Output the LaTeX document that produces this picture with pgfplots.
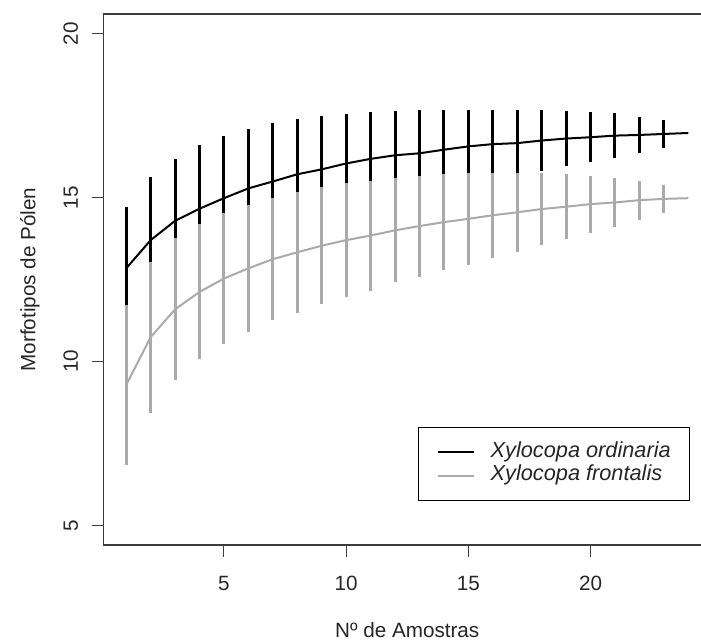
\documentclass[border=0pt]{standalone}
\usepackage{fontspec}
\setmainfont{Liberation Sans}
\usepackage{pgfplots}
\usepackage{pgfplotstable}
\pgfplotsset{compat=1.18}
\definecolor{greyR}{RGB}{170,170,170}
\definecolor{frameR}{RGB}{60,60,60}

\pgfplotstableread{
x y e
1 12.84 1.88
2 13.70 1.94
3 14.29 1.88
4 14.66 1.94
5 14.98 1.90
6 15.28 1.82
7 15.49 1.78
8 15.71 1.68
9 15.86 1.64
10 16.04 1.52
11 16.18 1.42
12 16.29 1.35
13 16.35 1.33
14 16.46 1.22
15 16.56 1.12
16 16.63 1.05
17 16.66 1.02
18 16.74 0.94
19 16.80 0.84
20 16.84 0.77
21 16.89 0.68
22 16.91 0.56
23 16.94 0.44
24 16.97 0
}\ordinaria

\pgfplotstableread{
x y e
1 9.28 2.43
2 10.74 2.30
3 11.59 2.17
4 12.12 2.06
5 12.53 2.00
6 12.84 1.93
7 13.12 1.86
8 13.33 1.85
9 13.53 1.78
10 13.70 1.74
11 13.84 1.68
12 14.00 1.59
13 14.13 1.54
14 14.25 1.47
15 14.35 1.41
16 14.46 1.30
17 14.55 1.21
18 14.65 1.11
19 14.72 0.99
20 14.80 0.87
21 14.85 0.74
22 14.92 0.59
23 14.96 0.43
24 14.98 0
}\frontalis

\begin{document}
\begin{tikzpicture}
\begin{axis}[
  at={(0,0)}, anchor=south west,
  scale only axis,
  width=455.3pt, height=398.25pt,
  xmin=0.08, xmax=24.92, ymin=4.4, ymax=20.6,
  xtick={5,10,15,20}, ytick={5,10,15,20},
  tick pos=left, tick align=outside,
  major tick length=9pt,
  every tick/.style={frameR, line width=0.75pt},
  axis line style={frameR, line width=1pt},
  /pgf/number format/assume math mode=true,
  ticklabel style={font=\fontsize{15.5}{18}\selectfont, text=black!85},
  xticklabel shift=11pt,
  yticklabel shift=6.75pt,
  yticklabel style={rotate=90, anchor=south},
  xlabel={Nº de Amostras},
  ylabel={Morfotipos de Pólen},
  label style={font=\fontsize{15.5}{18}\selectfont, text=black!85},
  xlabel style={at={(axis description cs:0.5,-0.1745)}, anchor=base, inner sep=0pt},
  ylabel style={at={(axis description cs:-0.1214,0.5)}, anchor=center, rotate=0},
  legend style={at={(axis cs:12.95,8.0)}, anchor=north west,
    draw=black, line width=0.75pt,
    font=\fontsize{16.3}{19}\selectfont\itshape,
    inner xsep=13.8pt, inner ysep=11.5pt, row sep=3pt, column sep=11.7pt,
    nodes={inner sep=0pt, text height=11pt, text depth=3.5pt, text=black!85}},
  legend cell align=left,
  legend image code/.code={\draw[#1] (0pt,0pt) -- (27pt,0pt);},
]
\addplot[black, line width=1.5pt, forget plot,
  error bars/.cd, y dir=both, y explicit, error mark=none,
  error bar style={black, line width=2.25pt}]
  table[x=x, y=y, y error=e] {\ordinaria};
\addplot[greyR, line width=1.5pt, forget plot,
  error bars/.cd, y dir=both, y explicit, error mark=none,
  error bar style={greyR, line width=2.25pt}]
  table[x=x, y=y, y error=e] {\frontalis};
\addlegendimage{black, line width=1.5pt}
\addlegendentry{Xylocopa ordinaria}
\addlegendimage{greyR, line width=1.5pt}
\addlegendentry{Xylocopa frontalis}
\end{axis}
\pgfresetboundingbox
\useasboundingbox (-77.78pt,-74.25pt) rectangle (447.98pt,408.75pt);
\end{tikzpicture}
\end{document}
